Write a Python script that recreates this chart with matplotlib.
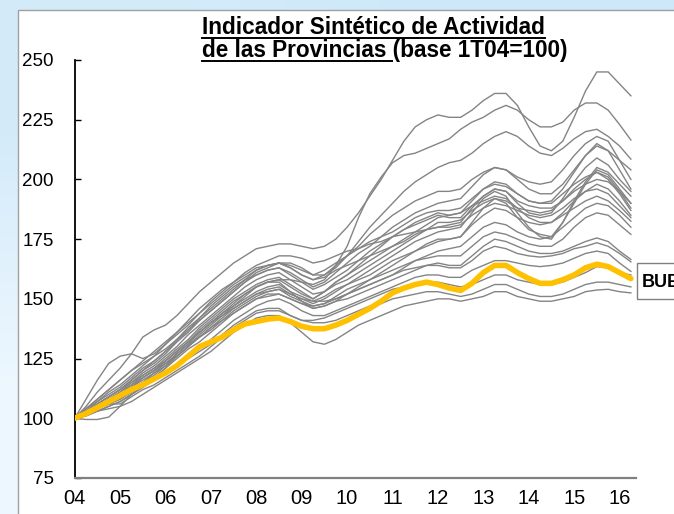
import matplotlib
matplotlib.use('Agg')
import matplotlib.pyplot as plt
import numpy as np
from matplotlib.patches import Rectangle
from matplotlib.lines import Line2D

# ---------------- data (quarterly, 1T04 .. 2T16) ----------------
year_labels = ['04', '05', '06', '07', '08', '09', '10', '11', '12', '13', '14', '15', '16']
y_ticks = [75, 100, 125, 150, 175, 200, 225, 250]

bue = [100, 102, 104.5, 107, 109.5, 112, 114, 116.5, 119, 122,
       126, 130, 132, 134, 137, 139.5, 140.5, 141.5, 142, 140.5,
       138.5, 137.5, 137.5, 139, 141, 143.5, 146, 149, 152.5, 154.5,
       156, 157, 156, 154.5, 153.5, 156.5, 161, 164, 164, 161,
       158.5, 156.5, 156.5, 158, 160, 163, 164.5, 163.5, 161, 158.5]

p01 = [100, 105, 111, 116, 121, 127, 134, 137, 139, 143,
       148, 153, 157, 161, 165, 168, 171, 172, 173, 173,
       172, 171, 172, 175, 180, 186, 193, 200, 208, 216,
       222, 225, 227, 226, 226, 229, 233, 236, 236, 231,
       222, 214, 212, 216, 226, 237, 245, 245, 240, 235]
p02 = [100, 103, 106, 109, 112, 115, 118, 121, 124, 128,
       132, 136, 140, 144, 148, 152, 155, 157, 158, 158,
       157, 156, 158, 164, 172, 184, 194, 201, 207, 210,
       211, 213, 215, 217, 221, 224, 226, 229, 231, 229,
       225, 222, 222, 224, 229, 232, 232, 229, 223, 216.5]
p03 = [100, 104, 108, 112, 116, 120, 123, 126, 129, 133,
       137, 141, 145, 149, 153, 157, 161, 163, 165, 165,
       163, 160, 160, 163, 168, 174, 180, 185, 190, 195,
       199, 202, 205, 207, 208, 211, 215, 218, 220, 218,
       214, 211, 210, 213, 217, 220, 221, 218, 214, 208.5]
p04 = [100, 103, 107, 110, 113, 117, 121, 124, 128, 132,
       136, 141, 145, 149, 153, 157, 160, 162, 163, 161,
       158, 155, 157, 161, 165, 169, 172, 176, 180, 183,
       186, 188, 190, 191, 192, 197, 202, 205, 204, 201,
       199, 198, 199, 204, 210, 215, 218, 216, 208, 200]
p05 = [100, 102, 105, 107, 110, 114, 118, 121, 125, 129,
       133, 138, 142, 146, 150, 153, 156, 158, 159, 156,
       153, 150, 153, 157, 160, 164, 168, 172, 176, 179,
       182, 184, 186, 185, 186, 191, 196, 199, 198, 194,
       191, 190, 191, 196, 203, 210, 215, 212, 204, 196]
p06 = [100, 103, 106, 109, 112, 116, 120, 123, 127, 132,
       137, 142, 146, 150, 154, 158, 162, 164, 165, 163,
       160, 158, 159, 162, 164, 166, 168, 170, 172, 174,
       177, 179, 180, 181, 182, 188, 193, 196, 195, 190,
       186, 185, 186, 192, 199, 205, 209, 206, 200, 195]
p07 = [100, 102, 104, 106, 108, 111, 115, 118, 122, 127,
       131, 136, 140, 143, 146, 149, 152, 154, 155, 152,
       150, 148, 150, 153, 156, 159, 162, 165, 168, 171,
       174, 176, 178, 179, 180, 186, 192, 195, 193, 186,
       180, 176, 175, 182, 191, 199, 205, 203, 198, 193]
p08 = [100, 103, 105, 107, 109, 113, 117, 120, 124, 128,
       132, 137, 141, 145, 149, 152, 155, 157, 157, 153,
       149, 146, 147, 149, 152, 155, 158, 161, 164, 167,
       170, 172, 174, 175, 176, 182, 188, 192, 190, 184,
       179, 177, 176, 182, 190, 198, 204, 202, 196, 190]
p09 = [100, 104, 107, 111, 114, 118, 122, 126, 131, 136,
       141, 146, 150, 154, 157, 160, 163, 164, 165, 164,
       162, 160, 162, 165, 168, 171, 174, 176, 178, 181,
       184, 186, 187, 187, 188, 192, 196, 198, 197, 194,
       191, 190, 190, 194, 198, 201, 203, 201, 195, 188]
p10 = [100, 102, 105, 108, 111, 115, 119, 122, 126, 130,
       135, 139, 143, 147, 151, 155, 158, 160, 161, 158,
       155, 152, 153, 156, 158, 161, 164, 167, 170, 173,
       176, 179, 182, 182, 183, 187, 190, 192, 191, 188,
       187, 186, 187, 191, 196, 200, 203, 200, 194, 187]
p11 = [100, 103, 105, 108, 110, 113, 117, 120, 124, 128,
       132, 136, 140, 144, 147, 150, 153, 155, 156, 153,
       151, 149, 151, 154, 156, 158, 160, 163, 166, 168,
       170, 173, 175, 175, 176, 181, 185, 188, 187, 184,
       182, 181, 182, 186, 191, 195, 198, 196, 191, 185]
p12 = [100, 101, 103, 105, 107, 110, 114, 117, 121, 126,
       130, 135, 139, 143, 147, 151, 155, 157, 158, 155,
       152, 150, 153, 157, 160, 163, 166, 169, 172, 175,
       178, 181, 184, 185, 186, 189, 191, 193, 192, 188,
       184, 182, 182, 185, 188, 191, 193, 191, 187, 182.5]
p13 = [100, 102, 104, 107, 109, 112, 115, 119, 122, 126,
       130, 134, 138, 141, 144, 147, 150, 152, 152, 150,
       148, 147, 148, 150, 152, 154, 156, 158, 160, 163,
       166, 168, 170, 171, 172, 176, 180, 182, 181, 178,
       176, 175, 176, 180, 184, 188, 190, 189, 185, 180]
p14 = [100, 108, 116, 123, 126, 127, 125, 127, 131, 135,
       139, 144, 149, 153, 157, 161, 164, 166, 168, 168,
       167, 165, 166, 168, 170, 171, 173, 174, 176, 177,
       178, 179, 180, 180, 181, 185, 188, 190, 189, 187,
       185, 184, 185, 188, 192, 195, 196, 194, 189, 184]
p15 = [100, 102, 104, 106, 108, 111, 114, 117, 121, 125,
       129, 132, 136, 140, 144, 147, 150, 151, 152, 150,
       148, 146, 147, 149, 150, 152, 154, 156, 158, 160,
       162, 164, 165, 164, 164, 168, 172, 175, 174, 172,
       170, 169, 169, 170, 172, 174, 175.5, 174, 170, 166.5]
p16 = [100, 103, 105, 108, 111, 114, 117, 120, 123, 126,
       130, 134, 137, 141, 145, 148, 151, 153, 154, 152,
       150, 149, 149, 150, 152, 154, 156, 158, 160, 162,
       163, 164, 164, 163, 163, 166, 170, 172, 171, 169,
       168, 167.5, 168, 169, 171, 172, 173.5, 172, 169, 165.5]
p17 = [100, 101, 103, 105, 107, 110, 113, 116, 119, 122,
       126, 129, 133, 137, 141, 144, 147, 149, 150, 148,
       145, 143, 143, 145, 147, 149, 151, 153, 155, 157,
       159, 160, 160, 159, 159, 162, 164, 166, 166, 165,
       164, 163.5, 164, 165, 167, 169, 170, 169, 165, 161.5]
p18 = [100, 102, 104, 106, 106, 109, 112, 114, 117, 120,
       123, 126, 130, 134, 138, 141, 144, 145, 145, 143,
       141, 141, 142, 144, 146, 148, 150, 152, 154, 155,
       156, 157, 157, 156, 155, 156, 158, 160, 160, 158,
       157, 156, 156, 157, 159, 161, 163.5, 163, 161, 160]
p19 = [100, 99.5, 99.5, 100.5, 105, 110, 113, 116, 119, 122,
       125, 128, 131, 135, 139, 142, 145, 146, 146, 143,
       141, 140, 140, 141, 143, 145, 147, 148, 150, 151,
       152, 153, 153, 152, 151, 152, 154, 156, 156, 154,
       152, 151, 151, 152, 154, 156, 157, 157, 156, 155]
p20 = [100, 102, 103, 104, 105, 107, 110, 113, 116, 119,
       122, 125, 128, 132, 136, 139, 142, 143, 143, 140,
       136, 132, 131, 133, 136, 139, 141, 143, 145, 147,
       148, 149, 150, 150, 149, 150, 151, 153, 153, 151,
       150, 149, 149, 150, 151, 153, 153.7, 154, 153, 152.5]
p21 = [100, 103, 106, 109, 112, 116, 120, 124, 128, 133,
       138, 142, 147, 151, 155, 158, 160, 162, 163, 160,
       157, 154, 156, 159, 162, 166, 170, 173, 176, 179,
       181, 183, 185, 184, 184, 189, 193, 196, 195, 191,
       189, 188, 188, 191, 195, 198, 200, 199, 195, 190]
p22 = [100, 102, 104, 107, 110, 113, 116, 119, 123, 127,
       131, 134, 138, 142, 146, 149, 152, 153, 154, 151,
       149, 147, 148, 151, 154, 156, 158, 160, 162, 164,
       166, 167, 168, 168, 168, 172, 176, 178, 177, 175,
       173, 172, 172, 175, 180, 184, 186, 185, 181, 177]
p23 = [100, 104, 108, 112, 116, 120, 124, 128, 132, 136,
       140, 144, 148, 152, 156, 159, 162, 164, 165, 163,
       160, 158, 160, 164, 168, 172, 177, 181, 185, 188,
       191, 193, 195, 195, 196, 200, 203, 205, 204, 200,
       196, 194, 194, 198, 204, 210, 214, 212, 208, 204]

provinces = [p01, p02, p03, p04, p05, p06, p07, p08, p09, p10, p11, p12,
             p13, p14, p15, p16, p17, p18, p19, p20, p21, p22, p23]

title_line1 = 'Indicador Sintético de Actividad'
title_line2_a = 'de las Provincias '
title_line2_b = '(base 1T04=100)'
series_label = 'BUE'

# ---------------- figure ----------------
W, H = 674, 514
fig = plt.figure(figsize=(W / 100, H / 100), dpi=100)
fig.patch.set_facecolor('#dbeefc')

bg = fig.add_axes([0, 0, 1, 1], zorder=-10)
bg.axis('off')
corners = np.array([[[0.83, 0.92, 0.98], [0.80, 0.91, 0.98]],
                    [[0.93, 0.97, 1.00], [0.90, 0.95, 0.99]]])
bg.imshow(corners, extent=[0, 1, 0, 1], aspect='auto', interpolation='bilinear')
bg.set_xlim(0, 1)
bg.set_ylim(0, 1)

panel = Rectangle((18 / W, -0.05), 1.0, 1.05 - 10 / H, transform=fig.transFigure,
                  facecolor='white', edgecolor='#a0a0a0', linewidth=1.0, zorder=-5)
fig.add_artist(panel)

ax = fig.add_axes([74.7 / W, 36 / H, (636 - 74.7) / W, (478 - 60) / H])
ax.set_facecolor('none')

x = np.arange(len(bue))
for s in provinces:
    ax.plot(x, s, color='#848484', lw=1.0, solid_joinstyle='miter', zorder=2)
ax.plot(x, bue, color='#FFC000', lw=4.0, solid_capstyle='round', zorder=3)

ax.set_xlim(0, 49.45)
ax.set_ylim(75, 250)
ax.set_yticks(y_ticks)
ax.set_xticks(np.arange(0, 4 * len(year_labels), 4))
ax.set_xticklabels(year_labels)

for sp in ['top', 'right']:
    ax.spines[sp].set_visible(False)
ax.spines['left'].set_color('black')
ax.spines['left'].set_linewidth(1.3)
ax.spines['bottom'].set_color('#808080')
ax.spines['bottom'].set_linewidth(1.6)

ax.tick_params(axis='y', direction='in', length=4.5, width=1.0, color='black',
               pad=15, labelsize=13.5, labelcolor='black')
ax.tick_params(axis='x', length=0, pad=8, labelsize=14.5, labelcolor='black')
for lab in ax.get_yticklabels():
    lab.set_family(['Liberation Sans', 'DejaVu Sans'])
for lab in ax.get_xticklabels():
    lab.set_family(['Liberation Sans Narrow', 'Liberation Sans', 'DejaVu Sans'])

# ---------------- title with underline ----------------
fig.canvas.draw()
r = fig.canvas.get_renderer()
tkw = dict(fontsize=16.3, fontweight='bold', family=['Liberation Sans', 'DejaVu Sans'],
           va='baseline', color='black')
t1 = fig.text(373.5 / W, 1 - 34.5 / H, title_line1, ha='center', **tkw)
t2 = fig.text(384.5 / W, 1 - 57.5 / H, title_line2_a + title_line2_b, ha='center', **tkw)
tmp = fig.text(0, 0, title_line2_b, ha='left', **tkw)
bb1 = t1.get_window_extent(r)
bb2 = t2.get_window_extent(r)
wb = tmp.get_window_extent(r).width
tmp.remove()

u1 = 1 - 37.5 / H
fig.add_artist(Line2D([bb1.x0 / W, bb1.x1 / W], [u1, u1], transform=fig.transFigure,
                      color='black', lw=1.4))
u2 = 1 - 60.5 / H
fig.add_artist(Line2D([bb2.x0 / W, (bb2.x1 - wb) / W], [u2, u2], transform=fig.transFigure,
                      color='black', lw=1.4))

# ---------------- BUE label box ----------------
box = Rectangle((637 / W, 1 - 299 / H), 0.2, 36 / H, transform=fig.transFigure,
                facecolor='white', edgecolor='#808080', linewidth=1.0, zorder=5)
fig.add_artist(box)
fig.text(642 / W, 1 - 287 / H, series_label, ha='left', va='baseline', fontsize=13,
         fontweight='bold', family=['Liberation Sans', 'DejaVu Sans'],
         color='black', zorder=6)

fig.savefig('out.png', dpi=100)
